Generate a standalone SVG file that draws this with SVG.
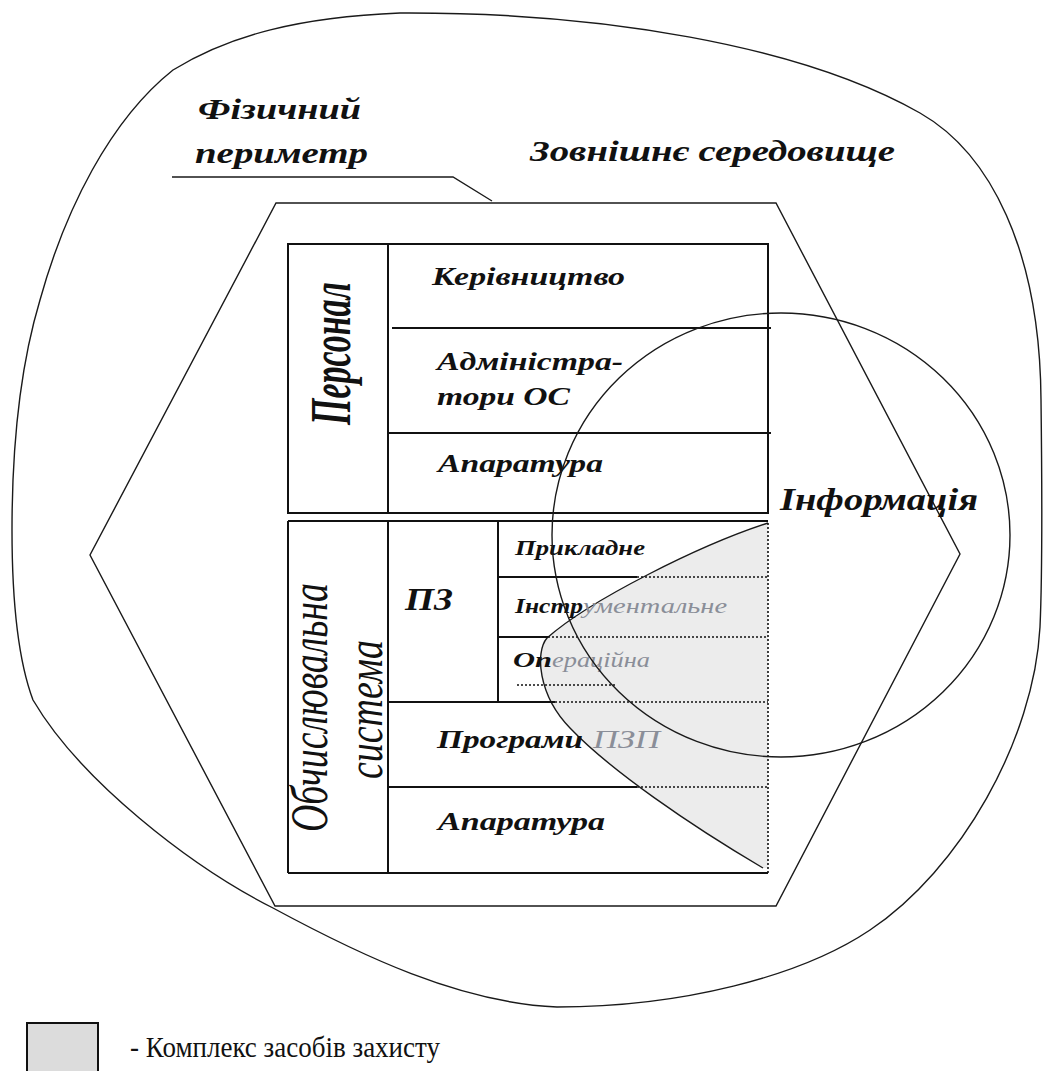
<svg xmlns="http://www.w3.org/2000/svg" width="1045" height="1071" viewBox="0 0 1045 1071">
<style>
.thin{fill:none;stroke:#1a1a1a;stroke-width:1.4}
.tbl{fill:none;stroke:#111;stroke-width:2}
.dot{fill:none;stroke:#111;stroke-width:1.6;stroke-dasharray:2 2}
.bi{font-family:'Liberation Serif','Times New Roman',serif;font-style:italic;font-weight:bold;fill:#111}
.it{font-family:'Liberation Serif','Times New Roman',serif;font-style:italic;fill:#111}
.fade{font-family:'Liberation Serif','Times New Roman',serif;font-style:italic;fill:#8a8e98}
.reg{font-family:'Liberation Serif','Times New Roman',serif;fill:#111}
</style>
<rect width="1045" height="1071" fill="#fff"/>

<g id="external-environment">
<path class="thin" d="M400,13 C600,12 800,45 920,113 C990,153 1040,250 1041,400 C1042,480 1043,560 1040,627 C1034,740 960,870 870,930 C800,977 680,1007 557,1007 C460,1003 360,955 273,908 C190,866 80,780 33,700 C18,660 12,600 12,530 C12,440 22,360 40,300 C65,210 110,120 173,70 C230,35 300,17 400,13 Z"/>
<text class="bi" x="530" y="161" font-size="30" textLength="365" lengthAdjust="spacingAndGlyphs">Зовнішнє середовище</text>
</g>

<g id="physical-perimeter">
<polygon class="thin" points="276,203 776,203 960,554 776,906 275,906 90,555"/>
<text class="bi" x="198" y="119" font-size="30" textLength="163" lengthAdjust="spacingAndGlyphs">Фізичний</text>
<text class="bi" x="195" y="163" font-size="30" textLength="173" lengthAdjust="spacingAndGlyphs">периметр</text>
</g>

<g id="protection-complex">
<path d="M768,523 C700,545 590,600 547,638 C535,652 538,695 570,728 C610,770 690,825 763,868 L768,868 Z" fill="#ececec" stroke="none"/>
<path class="thin" d="M768,523 C700,545 590,600 547,638 C535,652 538,695 570,728 C610,770 690,825 763,868"/>
</g>

<g id="personnel">
<rect class="tbl" x="288" y="244" width="480" height="269"/>
<line class="tbl" x1="388" y1="244" x2="388" y2="513"/>
<line class="tbl" x1="392" y1="328" x2="771" y2="328"/>
<line class="tbl" x1="388" y1="433" x2="771" y2="433"/>
<text class="bi" transform="translate(350,425) rotate(-90)" font-size="56" textLength="143" lengthAdjust="spacingAndGlyphs">Персонал</text>
<text class="bi" x="432" y="285" font-size="26" textLength="193" lengthAdjust="spacingAndGlyphs">Керівництво</text>
<text class="bi" x="437" y="370" font-size="26" textLength="186" lengthAdjust="spacingAndGlyphs">Адміністра-</text>
<text class="bi" x="437" y="405" font-size="26" textLength="133" lengthAdjust="spacingAndGlyphs">тори ОС</text>
<text class="bi" x="438" y="472" font-size="26" textLength="165" lengthAdjust="spacingAndGlyphs">Апаратура</text>
</g>

<g id="computing-system">
<line class="tbl" x1="288" y1="521" x2="768" y2="521"/>
<line class="tbl" x1="288" y1="521" x2="288" y2="873"/>
<line class="tbl" x1="288" y1="873" x2="768" y2="873"/>
<line class="tbl" x1="388" y1="521" x2="388" y2="873"/>
<line class="tbl" x1="498" y1="521" x2="498" y2="702"/>
<line class="tbl" x1="498" y1="577" x2="637" y2="577"/>
<line class="tbl" x1="498" y1="637" x2="548" y2="637"/>
<line class="tbl" x1="388" y1="702" x2="555" y2="702"/>
<line class="tbl" x1="388" y1="787" x2="637" y2="787"/>
<line class="dot" x1="768" y1="523" x2="768" y2="873"/>
<line class="dot" x1="637" y1="577" x2="768" y2="577"/>
<line class="dot" x1="548" y1="637" x2="768" y2="637"/>
<line class="dot" x1="555" y1="702" x2="768" y2="702"/>
<line class="dot" x1="637" y1="787" x2="768" y2="787"/>
<line class="dot" x1="517" y1="685" x2="615" y2="685"/>
<text class="it" transform="translate(327,832) rotate(-90)" font-size="52" textLength="249" lengthAdjust="spacingAndGlyphs">Обчислювальна</text>
<text class="it" transform="translate(382,779) rotate(-90)" font-size="50" textLength="139" lengthAdjust="spacingAndGlyphs">система</text>
<text class="bi" x="405" y="610" font-size="32" textLength="48" lengthAdjust="spacingAndGlyphs">ПЗ</text>
<text class="bi" x="515" y="555" font-size="21" textLength="130" lengthAdjust="spacingAndGlyphs">Прикладне</text>
<text class="bi" x="515" y="613" font-size="21" textLength="68" lengthAdjust="spacingAndGlyphs">Інстр</text>
<text class="fade" x="583" y="613" font-size="21" textLength="144" lengthAdjust="spacingAndGlyphs">ументальне</text>
<text class="bi" x="513" y="667" font-size="21" textLength="39" lengthAdjust="spacingAndGlyphs">Оп</text>
<text class="fade" x="552" y="667" font-size="21" textLength="98" lengthAdjust="spacingAndGlyphs">ераційна</text>
<text class="bi" x="437" y="748" font-size="26" textLength="146" lengthAdjust="spacingAndGlyphs">Програми</text>
<text class="fade" x="593" y="748" font-size="26" textLength="67" lengthAdjust="spacingAndGlyphs">ПЗП</text>
<text class="bi" x="438" y="830" font-size="26" textLength="167" lengthAdjust="spacingAndGlyphs">Апаратура</text>
</g>

<g id="information">
<ellipse class="thin" cx="781" cy="535" rx="229" ry="222"/>
<text class="bi" x="780" y="510" font-size="31" textLength="198" lengthAdjust="spacingAndGlyphs">Інформація</text>
</g>

<g id="connectors">
<polyline class="thin" points="172,177 453,177 492,201"/>
</g>

<g id="legend">
<rect x="27" y="1023" width="71" height="60" fill="#dcdcdc" stroke="#111" stroke-width="2"/>
<text class="reg" x="130" y="1057" font-size="29" textLength="310" lengthAdjust="spacingAndGlyphs">- Комплекс засобів захисту</text>
</g>
</svg>
